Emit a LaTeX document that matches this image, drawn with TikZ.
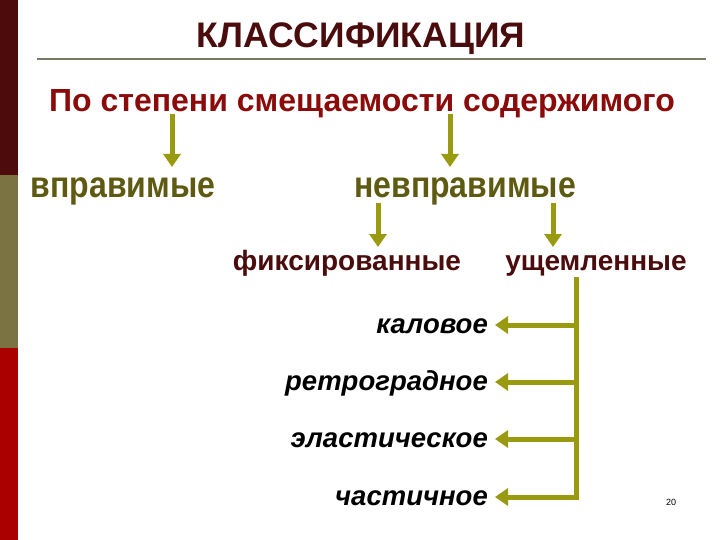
\documentclass[tikz,border=0pt]{standalone}
\usepackage{fontspec}
\setmainfont{Liberation Sans}
\usetikzlibrary{arrows.meta}
\definecolor{barA}{HTML}{4E0B0B}
\definecolor{barB}{HTML}{7B7442}
\definecolor{barC}{HTML}{AA0000}
\definecolor{titlec}{HTML}{4A0C0C}
\definecolor{rulec}{HTML}{7A7A64}
\definecolor{subc}{HTML}{8B0A0A}
\definecolor{olivet}{HTML}{5E5A12}
\definecolor{arrowc}{HTML}{9A9A10}
\newcommand{\tallbox}[1]{\scalebox{1}[1.15]{#1}}
\tikzset{
  lbl/.style={inner sep=0pt, anchor=base, font=\bfseries\fontsize{32}{36}\selectfont},
  sub/.style={inner sep=0pt, anchor=base, font=\bfseries\fontsize{28}{32}\selectfont},
  itl/.style={inner sep=0pt, anchor=base east, font=\bfseries\itshape\fontsize{27.5}{32}\selectfont},
  arr/.style={draw=arrowc, line width=5pt, -{Triangle[length=13pt,width=17pt]}},
  ln/.style={draw=arrowc, line width=5pt}
}
\begin{document}
\begin{tikzpicture}[x=1pt,y=-1pt]
\useasboundingbox (0,0) rectangle (720,540);
\fill[white] (0,0) rectangle (720,540);
\fill[barA] (0,0) rectangle (18,175);
\fill[barB] (0,175) rectangle (18,348);
\fill[barC] (0,348) rectangle (18,540);
\draw[rulec, line width=2pt] (37,59.5) -- (706,59.5);
\node[inner sep=0pt, anchor=base, text=titlec, font=\bfseries\fontsize{35.5}{40}\selectfont] (title) at (361,48) {КЛАССИФИКАЦИЯ};
\node[inner sep=0pt, anchor=base, text=subc, font=\bfseries\fontsize{32}{36}\selectfont] (root) at (362,112) {По степени смещаемости содержимого};
\node[lbl, text=olivet] (vpr) at (123,197) {\tallbox{вправимые}};
\node[lbl, text=olivet] (nevpr) at (465,197) {\tallbox{невправимые}};
\node[sub, text=titlec] (fix) at (347,270) {фиксированные};
\node[sub, text=titlec] (ush) at (596,270) {ущемленные};
\node[itl] (k1) at (488,333) {каловое};
\node[itl] (k2) at (488,390) {ретроградное};
\node[itl] (k3) at (488,447) {эластическое};
\node[itl] (k4) at (488,505) {частичное};
\node[inner sep=0pt, font=\fontsize{9}{10}\selectfont] (pg) at (671,502) {20};
\coordinate (a1s) at (172,114); \coordinate (a1e) at (172,167);
\coordinate (a2s) at (450,114); \coordinate (a2e) at (450,167);
\coordinate (a3s) at (378,203); \coordinate (a3e) at (378,247);
\coordinate (a4s) at (553,203); \coordinate (a4e) at (553,247);
\draw[arr] (a1s) -- (a1e);
\draw[arr] (a2s) -- (a2e);
\draw[arr] (a3s) -- (a3e);
\draw[arr] (a4s) -- (a4e);
\coordinate (vt) at (576,277);
\coordinate (vb) at (576,499.5);
\draw[ln] (vt) -- (vb);
\coordinate (b1s) at (578.5,325); \coordinate (b1e) at (495,325);
\coordinate (b2s) at (578.5,382); \coordinate (b2e) at (495,382);
\coordinate (b3s) at (578.5,439); \coordinate (b3e) at (495,439);
\coordinate (b4s) at (578.5,497); \coordinate (b4e) at (495,497);
\draw[arr] (b1s) -- (b1e);
\draw[arr] (b2s) -- (b2e);
\draw[arr] (b3s) -- (b3e);
\draw[arr] (b4s) -- (b4e);
\end{tikzpicture}
\end{document}
